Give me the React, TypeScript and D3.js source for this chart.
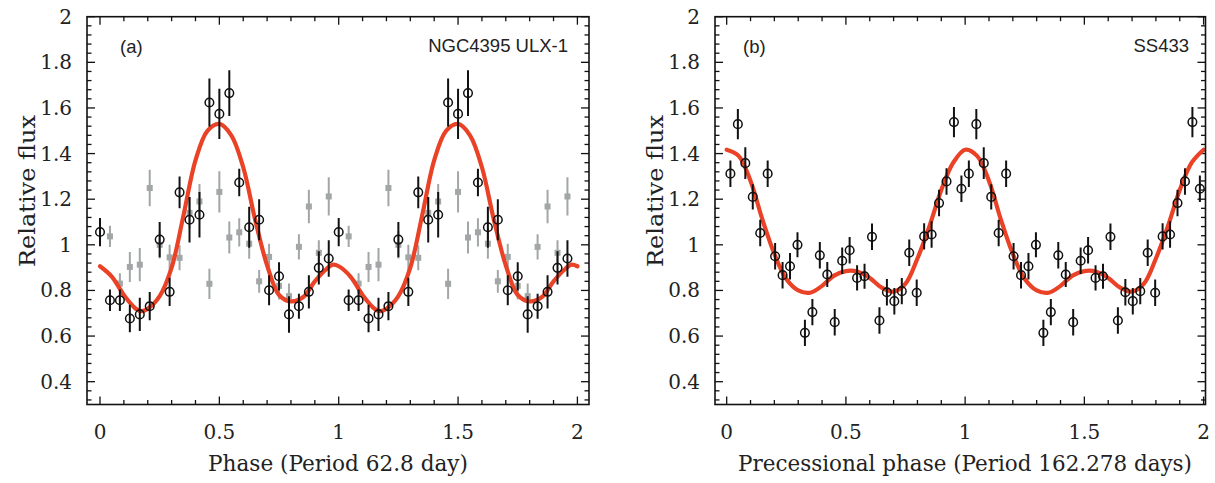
import React from 'react';
import * as d3 from 'd3';

const W = 1215;
const H = 483;

// ---------- Panel (a): NGC4395 ULX-1, one folded cycle (shown twice) ----------
const phaseA = [0, 0.0417, 0.0833, 0.125, 0.1667, 0.2083, 0.25, 0.2917, 0.3333, 0.375, 0.4167, 0.4583,
  0.5, 0.5417, 0.5833, 0.625, 0.6667, 0.7083, 0.75, 0.7917, 0.8333, 0.875, 0.9167, 0.9583];
const fluxA = [1.056, 0.757, 0.757, 0.677, 0.695, 0.731, 1.023, 0.794, 1.23, 1.11, 1.132, 1.624,
  1.574, 1.665, 1.273, 1.077, 1.11, 0.801, 0.862, 0.695, 0.731, 0.794, 0.899, 0.94];
const errA = [0.062, 0.047, 0.047, 0.06, 0.073, 0.062, 0.077, 0.062, 0.07, 0.1, 0.1, 0.105,
  0.11, 0.1, 0.06, 0.09, 0.09, 0.066, 0.062, 0.08, 0.055, 0.073, 0.073, 0.08];

const phaseGray = [0.0417, 0.0833, 0.125, 0.1667, 0.2083, 0.25, 0.2917, 0.3333, 0.375, 0.4167, 0.4583,
  0.5, 0.5417, 0.5833, 0.625, 0.6667, 0.7083, 0.75, 0.7917, 0.8333, 0.875, 0.9167, 0.9583];
const fluxGray = [1.037, 0.83, 0.903, 0.913, 1.249, 1.0, 0.945, 0.943, 1.14, 1.19, 0.829,
  1.232, 1.032, 1.055, 1.005, 0.84, 0.947, 0.82, 0.775, 0.991, 1.168, 0.965, 1.212];
const errGray = [0.047, 0.045, 0.066, 0.073, 0.08, 0.06, 0.055, 0.055, 0.07, 0.077, 0.066,
  0.09, 0.07, 0.062, 0.066, 0.05, 0.058, 0.06, 0.055, 0.055, 0.073, 0.055, 0.084];

const modelAX = [0, 0.05, 0.1, 0.15, 0.175, 0.2, 0.25, 0.3, 0.35, 0.4, 0.45, 0.5, 0.55, 0.6, 0.65,
  0.7, 0.75, 0.8, 0.85, 0.9, 0.95, 0.975];
const modelAY = [0.906, 0.86, 0.78, 0.72, 0.709, 0.72, 0.775, 0.9, 1.13, 1.37, 1.5, 1.53, 1.48, 1.34, 1.11,
  0.91, 0.78, 0.752, 0.77, 0.84, 0.895, 0.913];

// ---------- Panel (b): SS433, one folded cycle (shown twice) ----------
const phaseB = [0.0156, 0.0469, 0.0781, 0.1094, 0.1406, 0.1719, 0.2031, 0.2344, 0.2656, 0.2969, 0.3281,
  0.3594, 0.3906, 0.4219, 0.4531, 0.4844, 0.5156, 0.5469, 0.5781, 0.6094, 0.6406, 0.6719, 0.7031,
  0.7344, 0.7656, 0.7969, 0.8281, 0.8594, 0.8906, 0.9219, 0.9531, 0.9844];
const fluxB = [1.312, 1.529, 1.358, 1.21, 1.052, 1.312, 0.95, 0.867, 0.906, 1.0, 0.614, 0.705, 0.954,
  0.87, 0.661, 0.93, 0.976, 0.855, 0.862, 1.035, 0.668, 0.792, 0.753, 0.797, 0.965, 0.79, 1.037,
  1.045, 1.183, 1.278, 1.538, 1.246];
const errB = [0.058, 0.066, 0.07, 0.055, 0.058, 0.058, 0.058, 0.058, 0.058, 0.055, 0.058, 0.058, 0.058,
  0.055, 0.058, 0.058, 0.058, 0.055, 0.055, 0.058, 0.058, 0.058, 0.058, 0.058, 0.058, 0.058, 0.058,
  0.058, 0.058, 0.058, 0.066, 0.058];

const modelBX = [0, 0.05, 0.1, 0.15, 0.2, 0.25, 0.3, 0.35, 0.4, 0.45, 0.5, 0.55, 0.6, 0.65, 0.7, 0.75,
  0.8, 0.85, 0.9, 0.95];
const modelBY = [1.417, 1.39, 1.28, 1.11, 0.96, 0.85, 0.8, 0.79, 0.82, 0.865, 0.885, 0.882, 0.855, 0.812,
  0.795, 0.83, 0.94, 1.08, 1.24, 1.36];

// ---------- axes ----------
const xTickValues = [0, 0.5, 1, 1.5, 2];
const xTickLabels = ['0', '0.5', '1', '1.5', '2'];
const yTickValues = [0.4, 0.6, 0.8, 1.0, 1.2, 1.4, 1.6, 1.8, 2.0];
const yTickLabels = ['0.4', '0.6', '0.8', '1', '1.2', '1.4', '1.6', '1.8', '2'];

const SERIF = '"DejaVu Serif", serif';
const SANS = '"Liberation Sans", Arial, sans-serif';
const RED = 'rgb(234,66,38)';
const GRAY = '#a2a6a6';

type Pt = { x: number; y: number; e: number };

function twoCycles(px: number[], py: number[], pe: number[]): Pt[] {
  const out: Pt[] = [];
  for (const c of [0, 1]) px.forEach((p, i) => out.push({ x: p + c, y: py[i], e: pe[i] }));
  return out;
}
function twoCyclesModel(mx: number[], my: number[]): [number, number][] {
  const out: [number, number][] = [];
  for (const c of [0, 1]) mx.forEach((p, i) => out.push([p + c, my[i]]));
  out.push([2, my[0]]);
  return out;
}

interface PanelProps {
  left: number; right: number; top: number; bottom: number;
  xDom: [number, number];
  black: Pt[]; gray?: Pt[]; model: [number, number][];
  tag: string; tagX: number; title: string; titleX: number;
  xLabel: string; xLabelLen: number; xLabelX: number; yLabelX: number;
}

function Panel(p: PanelProps) {
  const x = d3.scaleLinear().domain(p.xDom).range([p.left, p.right]);
  const y = d3.scaleLinear().domain([0.3, 2.0]).range([p.bottom, p.top]);
  const line = d3.line<[number, number]>().x(d => x(d[0])).y(d => y(d[1])).curve(d3.curveCatmullRom.alpha(0.5));
  const xMinor = d3.range(0, 2.0001, 0.1);
  const yMinor = d3.range(0.32, 2.0001, 0.04);
  const clipId = 'clip' + p.tag.replace(/\W/g, '');
  return (
    <g>
      <defs>
        <clipPath id={clipId}><rect x={p.left} y={p.top} width={p.right - p.left} height={p.bottom - p.top} /></clipPath>
      </defs>
      {/* ticks */}
      <g stroke="#111" strokeWidth={1.3}>
        {xMinor.map((v, i) => {
          const major = Math.abs(v * 2 - Math.round(v * 2)) < 1e-6;
          const L = major ? 8 : 4.5;
          return (
            <g key={'xt' + i}>
              <line x1={x(v)} x2={x(v)} y1={p.bottom} y2={p.bottom - L} />
              <line x1={x(v)} x2={x(v)} y1={p.top} y2={p.top + L} />
            </g>
          );
        })}
        {yMinor.map((v, i) => {
          const major = Math.abs(v * 5 - Math.round(v * 5)) < 1e-6;
          const L = major ? 8 : 4.5;
          return (
            <g key={'yt' + i}>
              <line x1={p.left} x2={p.left + L} y1={y(v)} y2={y(v)} />
              <line x1={p.right} x2={p.right - L} y1={y(v)} y2={y(v)} />
            </g>
          );
        })}
      </g>
      <g clipPath={`url(#${clipId})`}>
        {p.gray && p.gray.map((d, i) => (
          <g key={'g' + i}>
            <line x1={x(d.x)} x2={x(d.x)} y1={y(d.y - d.e)} y2={y(d.y + d.e)} stroke={GRAY} strokeWidth={2} />
            <rect x={x(d.x) - 3} y={y(d.y) - 3} width={6} height={6} fill={GRAY} />
          </g>
        ))}
        <path d={line(p.model) || ''} fill="none" stroke={RED} strokeWidth={4.2} strokeLinecap="round" />
        {p.black.map((d, i) => (
          <g key={'b' + i}>
            <line x1={x(d.x)} x2={x(d.x)} y1={y(d.y - d.e)} y2={y(d.y + d.e)} stroke="#111" strokeWidth={2} />
            <circle cx={x(d.x)} cy={y(d.y)} r={4.3} fill="none" stroke="#111" strokeWidth={1.5} />
          </g>
        ))}
      </g>
      <rect x={p.left} y={p.top} width={p.right - p.left} height={p.bottom - p.top} fill="none" stroke="#111" strokeWidth={1.6} />
      {/* tick labels */}
      <g fontFamily={SERIF} fontSize={20} fill="#222">
        {xTickValues.map((v, i) => (
          <text key={'xl' + i} x={x(v)} y={p.bottom + 34} textAnchor="middle">{xTickLabels[i]}</text>
        ))}
        {yTickValues.map((v, i) => (
          <text key={'yl' + i} x={p.left - 15} y={y(v) + 7} textAnchor="end">{yTickLabels[i]}</text>
        ))}
      </g>
      <text x={p.xLabelX} y={471} textAnchor="middle" fontFamily={SERIF} fontSize={21.5} fill="#222"
        textLength={p.xLabelLen} lengthAdjust="spacingAndGlyphs">{p.xLabel}</text>
      <text transform={`translate(${p.yLabelX},191) rotate(-90)`} textAnchor="middle" fontFamily={SERIF} fontSize={22.5}
        fill="#222" textLength={152} lengthAdjust="spacingAndGlyphs">Relative flux</text>
      <text x={p.tagX} y={53} fontFamily={SANS} fontSize={18.5} fill="#222">{p.tag}</text>
      <text x={p.titleX} y={52} textAnchor="end" fontFamily={SANS} fontSize={18.5} fill="#222">{p.title}</text>
    </g>
  );
}

export default function App() {
  const blackA = twoCycles(phaseA, fluxA, errA);
  const grayA = twoCycles(phaseGray, fluxGray, errGray);
  const modelA = twoCyclesModel(modelAX, modelAY);
  const blackB = twoCycles(phaseB, fluxB, errB);
  const modelB = twoCyclesModel(modelBX, modelBY);
  return (
    <svg width={W} height={H} style={{ position: 'absolute', left: 0, top: 0, background: '#fff' }}>
      <rect width={W} height={H} fill="#fff" />
      <Panel left={87} right={589} top={16.7} bottom={404.5} xDom={[-0.0545, 2.0486]}
        black={blackA} gray={grayA} model={modelA}
        tag="(a)" tagX={120} title="NGC4395 ULX-1" titleX={568}
        xLabel="Phase (Period 62.8 day)" xLabelLen={260} xLabelX={338} yLabelX={35} />
      <Panel left={715} right={1205.5} top={16.7} bottom={404.5} xDom={[-0.049, 2.008]}
        black={blackB} model={modelB}
        tag="(b)" tagX={743} title="SS433" titleX={1189}
        xLabel="Precessional phase (Period 162.278 days)" xLabelLen={454} xLabelX={965} yLabelX={663} />
    </svg>
  );
}
